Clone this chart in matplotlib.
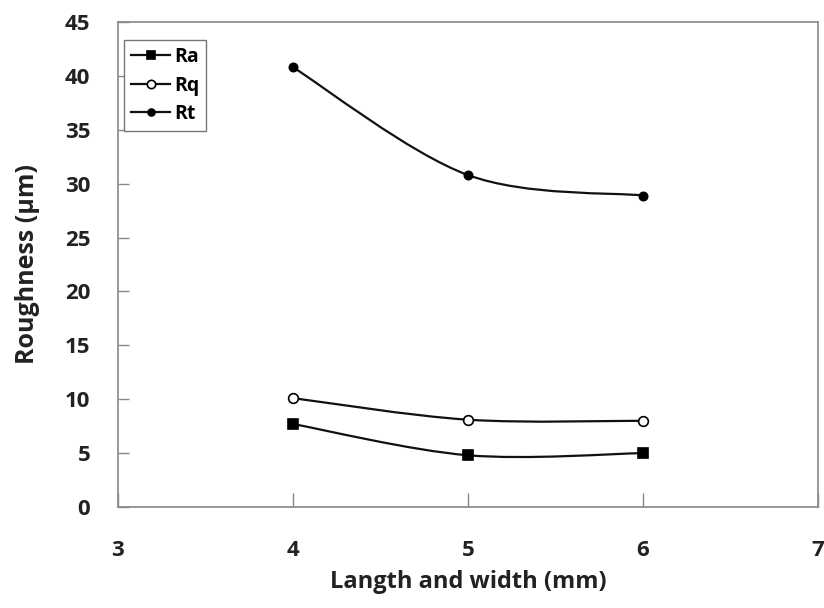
import numpy as np
import matplotlib
matplotlib.use("Agg")
import matplotlib.pyplot as plt
from matplotlib.path import Path
from matplotlib.patches import PathPatch
from matplotlib.lines import Line2D

# Data
sizes = [4, 5, 6]
ra = [7.7, 4.8, 5.0]
rq = [10.1, 8.1, 8.0]
rt = [40.8, 30.8, 28.9]

FONT = ["Open Sans", "DejaVu Sans"]
plt.rcParams["font.family"] = FONT
plt.rcParams["font.weight"] = "bold"


def smooth_path(x, y):
    # Excel-style smoothed line: Catmull-Rom segments as cubic Bezier
    pts = np.column_stack([x, y]).astype(float)
    n = len(pts)
    verts = [pts[0]]
    codes = [Path.MOVETO]
    for i in range(n - 1):
        p0 = pts[i - 1] if i > 0 else pts[i]
        p1 = pts[i]
        p2 = pts[i + 1]
        p3 = pts[i + 2] if i + 2 < n else pts[i + 1]
        c1 = p1 + (p2 - p0) / 6.0
        c2 = p2 - (p3 - p1) / 6.0
        verts += [c1, c2, p2]
        codes += [Path.CURVE4] * 3
    return Path(verts, codes)


fig = plt.figure(figsize=(8.24, 6.08), dpi=100, facecolor="white")
ax = fig.add_axes([118 / 824, 1 - 507 / 608, (818 - 118) / 824, (507 - 22) / 608])

series = [
    ("Ra", ra, dict(marker="s", mfc="black", ms=7)),
    ("Rq", rq, dict(marker="o", mfc="white", ms=7)),
    ("Rt", rt, dict(marker="o", mfc="black", ms=6)),
]
handles = []
for name, vals, mk in series:
    ax.add_patch(PathPatch(smooth_path(sizes, vals), fill=False, lw=1.6,
                           edgecolor="#111111", zorder=2))
    ax.plot(sizes, vals, linestyle="none", mec="black", mew=1.2, zorder=3, **mk)
    hk = dict(mk, ms=mk["ms"] - 1)
    handles.append(Line2D([], [], color="#111111", lw=1.6, mec="black", mew=1.2, **hk))

ax.set_xlim(3, 7)
ax.set_ylim(0, 45)
ax.set_xticks([3, 4, 5, 6, 7])
ax.set_yticks(range(0, 46, 5))
ax.tick_params(direction="in", width=1, color="#888888", labelsize=16,
               labelcolor="#222222")
ax.tick_params(axis="y", length=8, pad=20)
ax.tick_params(axis="x", length=10, pad=24)
for s in ax.spines.values():
    s.set_color("#888888")
    s.set_linewidth(1.2)

ax.set_xlabel("Langth and width (mm)", fontsize=17, fontweight="bold",
              labelpad=6, color="#222222")
ax.set_ylabel("Roughness (µm)", fontsize=18, fontweight="bold",
              labelpad=18, color="#222222")

leg = ax.legend(handles, [s[0] for s in series], loc="upper left",
                bbox_to_anchor=(0.009, 0.963), borderaxespad=0, fontsize=14,
                handlelength=2.0, handletextpad=0.2, labelspacing=0.45,
                borderpad=0.35, fancybox=False, framealpha=1, edgecolor="#777777")
leg.get_frame().set_linewidth(1.0)

fig.savefig("out.png", dpi=100, facecolor="white")
